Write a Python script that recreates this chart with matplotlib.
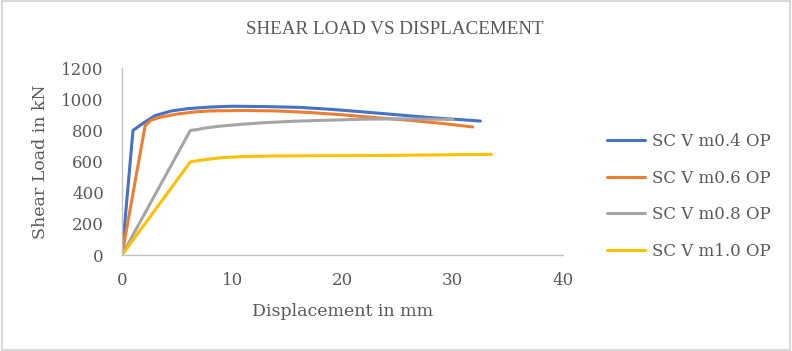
import matplotlib
matplotlib.use("Agg")
import matplotlib.pyplot as plt
from matplotlib.patches import Rectangle

plt.rcParams['font.family'] = ['DejaVu Serif']

labels = ["SC V m0.4 OP", "SC V m0.6 OP", "SC V m0.8 OP", "SC V m1.0 OP"]
colors = ["#4472C4", "#ED7D31", "#A5A5A5", "#FFC000"]

x_m04 = [0, 1.0, 2.0, 3.0, 4.5, 6.0, 8.0, 10.0, 13.0, 16.0, 19.0, 22.0, 25.0, 28.0, 30.5, 32.5]
y_m04 = [0, 800, 850, 895, 925, 940, 950, 955, 953, 948, 935, 918, 900, 882, 870, 860]

x_m06 = [0, 2.1, 2.6, 3.5, 5.0, 6.5, 8.0, 11.0, 14.0, 17.0, 20.0, 23.0, 26.0, 29.0, 31.8]
y_m06 = [0, 830, 865, 885, 905, 918, 925, 928, 925, 915, 900, 882, 865, 845, 822]

x_m08 = [0, 6.2, 6.8, 7.5, 9.0, 11.0, 13.0, 16.0, 19.0, 22.0, 25.0, 28.0, 30.0]
y_m08 = [0, 800, 805, 815, 828, 840, 850, 860, 866, 872, 874, 872, 870]

x_m10 = [0, 6.2, 6.8, 7.5, 9.0, 11.0, 14.0, 17.0, 20.0, 23.0, 26.0, 29.0, 31.0, 33.5]
y_m10 = [0, 598, 605, 612, 625, 632, 636, 637, 638, 639, 641, 643, 645, 646]

x_ticks = [0, 10, 20, 30, 40]
y_ticks = [0, 200, 400, 600, 800, 1000, 1200]

fig = plt.figure(figsize=(7.92, 3.51), dpi=100)
ax = fig.add_axes([0.154, 0.2735, 0.557, 0.5325])

series = [(x_m04, y_m04), (x_m06, y_m06), (x_m08, y_m08), (x_m10, y_m10)]
for (xs, ys), lab, c in zip(series, labels, colors):
    ax.plot(xs, ys, color=c, lw=2.2, label=lab, solid_capstyle='round', solid_joinstyle='round')

ax.set_xlim(0, 40)
ax.set_ylim(0, 1200)
ax.set_xticks(x_ticks)
ax.set_yticks(y_ticks)
txt = "#595959"
ax.tick_params(axis='both', length=0, labelsize=12, colors=txt)
ax.tick_params(axis='y', pad=13)
ax.tick_params(axis='x', pad=12)
for s in ['top', 'right']:
    ax.spines[s].set_visible(False)
for s in ['left', 'bottom']:
    ax.spines[s].set_color('#BFBFBF')
    ax.spines[s].set_linewidth(1.0)

ax.set_xlabel("Displacement in mm", fontsize=12.5, color=txt)
ax.xaxis.label.set_va('center')
ax.xaxis.set_label_coords(343/792, 1 - 312/351, transform=fig.transFigure)
ax.set_ylabel("Shear Load in kN", fontsize=12.5, color=txt)
ax.yaxis.label.set_va('center')
ax.yaxis.set_label_coords(41/792, 1 - 161.5/351, transform=fig.transFigure)

fig.text(395/792, 1 - 29.5/351, "SHEAR LOAD VS DISPLACEMENT", ha='center', va='center',
         fontsize=13.7, color=txt, family='Liberation Serif')

leg = fig.legend(loc='center left', bbox_to_anchor=(607/792, 1 - 196.5/351), frameon=False,
                 fontsize=12, labelcolor=txt, handlelength=2.3, handletextpad=0.4,
                 labelspacing=1.17, borderpad=0, borderaxespad=0)

fig.patches.append(Rectangle((0.002, 0.003), 0.996, 0.994, transform=fig.transFigure,
                             fill=False, edgecolor='#D9D9D9', lw=1.5))

fig.savefig("out.png", dpi=100)
